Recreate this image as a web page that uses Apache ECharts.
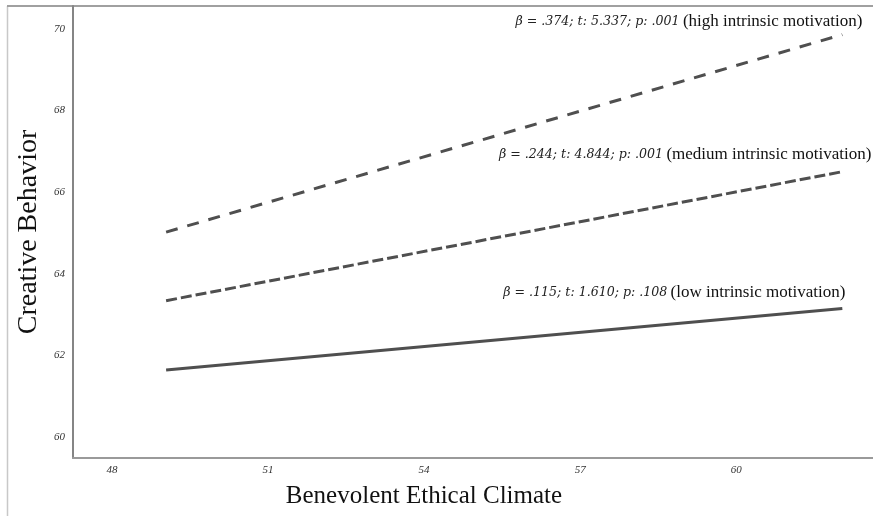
<!DOCTYPE html>
<html>
<head>
<meta charset="utf-8">
<script src="https://cdn.jsdelivr.net/npm/echarts@6/dist/echarts.min.js"></script>
<style>
html,body{margin:0;padding:0;background:#fff;}
#chart{width:873px;height:516px;}
</style>
</head>
<body>
<div id="chart"></div>
<script>
// Data
const climateX = [49.04, 62.04];
const lowMotivation = [61.64, 63.15];
const mediumMotivation = [63.34, 66.50];
const highMotivation = [65.02, 69.86];
const xTicks = [48, 51, 54, 57, 60];
const yTicks = [60, 62, 64, 66, 68, 70];
const statsLabels = {
  high: ['β = .374; t: 5.337; p: .001', '(high intrinsic motivation)'],
  medium: ['β = .244; t: 4.844; p: .001', '(medium intrinsic motivation)'],
  low: ['β = .115; t: 1.610; p: .108', '(low intrinsic motivation)']
};

const SERIF = '"Liberation Serif", "DejaVu Serif", serif';
const ITALIC = '"DejaVu Serif", "Liberation Serif", serif';
const lineColor = '#4f4f4f';

function pairs(ys) { return climateX.map((x, i) => [x, ys[i]]); }

function annot(key, ys, offset) {
  const t = statsLabels[key];
  return {
    symbol: 'circle',
    symbolSize: 0,
    silent: true,
    data: [{
      coord: [climateX[climateX.length - 1], ys[ys.length - 1]],
      label: {
        show: true,
        position: 'inside',
        align: 'right',
        verticalAlign: 'middle',
        offset: offset,
        formatter: '{i|' + t[0] + '} {r|' + t[1] + '}',
        rich: {
          i: { fontFamily: ITALIC, fontStyle: 'italic', fontSize: 12.6, color: '#222' },
          r: { fontFamily: SERIF, fontSize: 17, color: '#111' }
        }
      }
    }]
  };
}

const chart = echarts.init(document.getElementById('chart'), null, { renderer: 'canvas' });
chart.setOption({
  animation: false,
  backgroundColor: '#fff',
  grid: { left: 73, top: 6, right: 0, bottom: 58, containLabel: false, outerBoundsMode: 'none' },
  xAxis: {
    type: 'value',
    min: 47.25,
    max: 62.63,
    name: 'Benevolent Ethical Climate',
    nameLocation: 'middle',
    nameGap: 26,
    nameTextStyle: { fontFamily: SERIF, fontSize: 25, color: '#111', padding: [0, 98, 0, 0] },
    axisLine: { show: true, onZero: false, lineStyle: { color: '#9a9a9a', width: 2 } },
    axisTick: { show: false },
    splitLine: { show: false },
    axisLabel: {
      customValues: xTicks,
      margin: 7,
      fontFamily: SERIF, fontStyle: 'italic', fontSize: 11, color: '#333'
    }
  },
  yAxis: {
    type: 'value',
    min: 59.485,
    max: 70.56,
    name: 'Creative Behavior',
    nameLocation: 'middle',
    nameGap: 27,
    nameTextStyle: { fontFamily: SERIF, fontSize: 28, color: '#111' },
    axisLine: { show: true, onZero: false, lineStyle: { color: '#858585', width: 2 } },
    axisTick: { show: false },
    splitLine: { show: false },
    axisLabel: {
      customValues: yTicks,
      margin: 8,
      fontFamily: SERIF, fontStyle: 'italic', fontSize: 11, color: '#333'
    }
  },
  graphic: [
    { type: 'line', shape: { x1: 7.5, y1: 6, x2: 7.5, y2: 516 }, style: { stroke: '#c8c8c8', lineWidth: 1.5 }, silent: true },
    { type: 'line', shape: { x1: 7, y1: 6, x2: 873, y2: 6 }, style: { stroke: '#a0a0a0', lineWidth: 2 }, silent: true }
  ],
  series: [
    {
      name: 'high', type: 'line', data: pairs(highMotivation), symbol: 'none',
      lineStyle: { color: lineColor, width: 3, type: [12, 10] },
      markPoint: annot('high', highMotivation, [20, -13])
    },
    {
      name: 'medium', type: 'line', data: pairs(mediumMotivation), symbol: 'none',
      lineStyle: { color: lineColor, width: 3, type: [11, 4] },
      markPoint: annot('medium', mediumMotivation, [29, -17])
    },
    {
      name: 'low', type: 'line', data: pairs(lowMotivation), symbol: 'none',
      lineStyle: { color: lineColor, width: 3 },
      markPoint: annot('low', lowMotivation, [3, -16])
    }
  ]
});
</script>
</body>
</html>
